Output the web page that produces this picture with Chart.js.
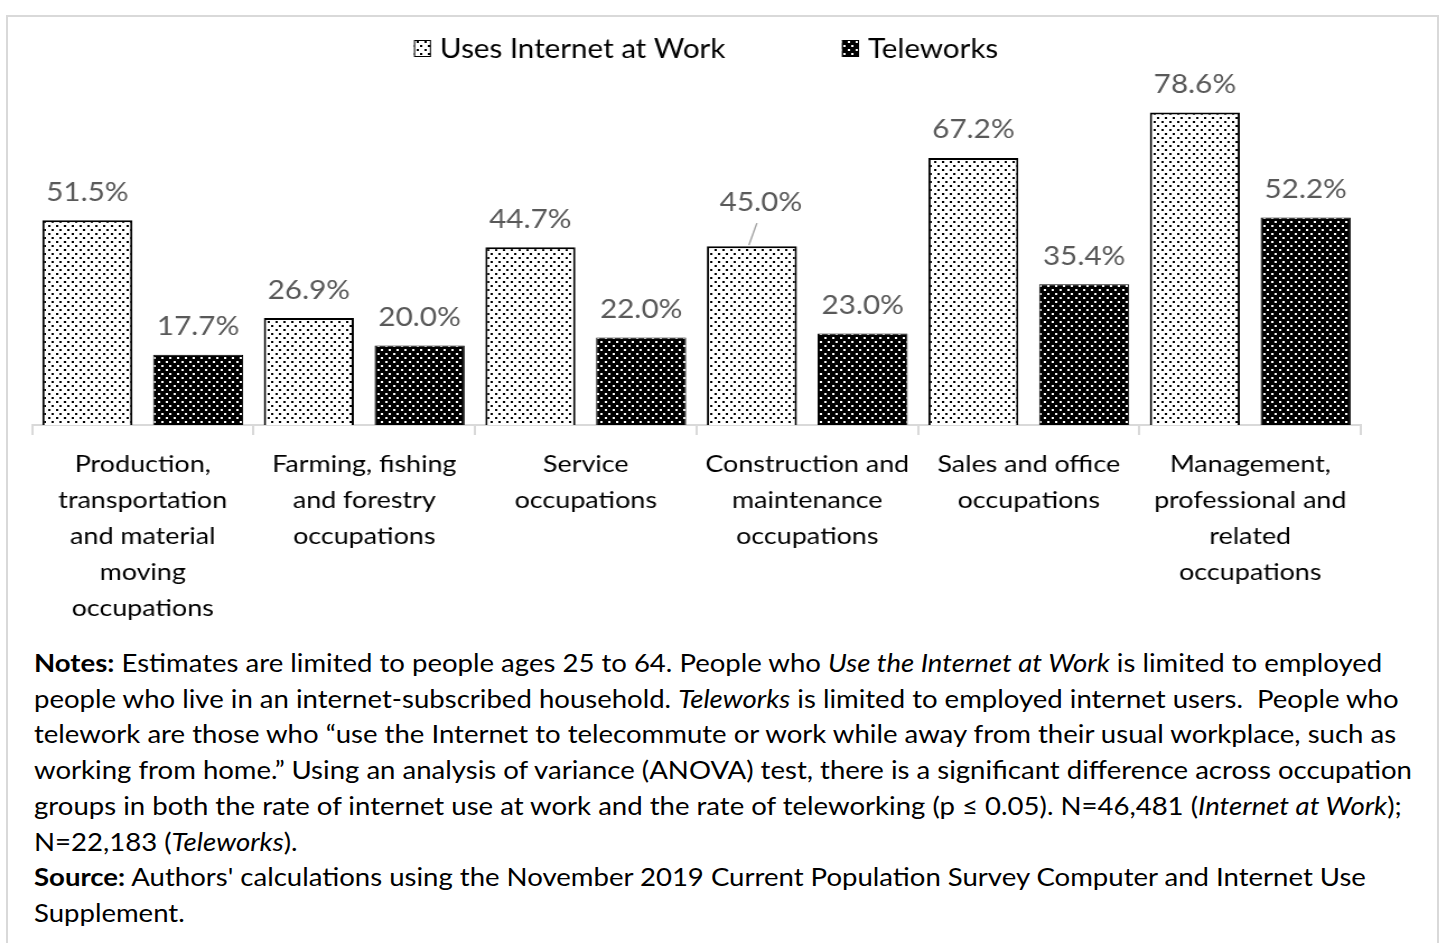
<!DOCTYPE html>
<html>
<head>
<meta charset="utf-8">
<script src="https://cdn.jsdelivr.net/npm/chart.js@4.4.1/dist/chart.umd.min.js"></script>
<style>
  body { margin: 0; background: #fff; font-family: Lato, sans-serif; overflow: hidden; }
  #frame { position: absolute; left: 6px; top: 15px; width: 1433px; height: 960px; border: 2px solid #d9d9d9; box-sizing: border-box; }
  /* the figure is set slightly wide, so the whole drawing is stretched sideways */
  .wide { position: absolute; left: 0; top: 0; transform: scaleX(1.12); transform-origin: 0 0; }
  #notes { left: 34px; top: 645px; font-size: 24.6px; line-height: 35.7px; white-space: nowrap; color: #000; }
</style>
</head>
<body>
<div id="frame"></div>
<div class="wide"><canvas id="chart" width="1293" height="640"></canvas></div>
<div id="notes" class="wide">
<b>Notes:</b> Estimates are limited to people ages 25 to 64. People who <i>Use the Internet at Work</i> is limited to employed<br>
people who live in an internet-subscribed household. <i>Teleworks</i> is limited to employed internet users.&nbsp; People who<br>
telework are those who “use the Internet to telecommute or work while away from their usual workplace, such as<br>
working from home.” Using an analysis of variance (ANOVA) test, there is a significant difference across occupation<br>
groups in both the rate of internet use at work and the rate of teleworking (p ≤ 0.05). N=46,481 (<i>Internet at Work</i>);<br>
N=22,183 (<i>Teleworks</i>).<br>
<b>Source:</b> Authors' calculations using the November 2019 Current Population Survey Computer and Internet Use<br>
Supplement.
</div>
<script>
const occupations = [
  ['Production,', 'transportation', 'and material', 'moving', 'occupations'],
  ['Farming, fishing', 'and forestry', 'occupations'],
  ['Service', 'occupations'],
  ['Construction and', 'maintenance', 'occupations'],
  ['Sales and office', 'occupations'],
  ['Management,', 'professional and', 'related', 'occupations']
];
const usesInternet = [51.5, 26.9, 44.7, 45.0, 67.2, 78.6];
const teleworks = [17.7, 20.0, 22.0, 23.0, 35.4, 52.2];

const FONT = 'Lato, sans-serif';
const SX = 1.12;          // sideways stretch applied by CSS
const px = v => v / SX;   // page x distance -> canvas x distance

// dotted fills: 14x8 tile (about 8px pitch once stretched), staggered 2px dots
function dots(bg, fg) {
  const c = document.createElement('canvas');
  c.width = 14; c.height = 8;
  const g = c.getContext('2d');
  g.fillStyle = bg; g.fillRect(0, 0, 14, 8);
  g.fillStyle = fg;
  g.fillRect(1, 1, 2, 2);
  g.fillRect(8, 1, 2, 2);
  g.fillRect(4, 5, 2, 2);
  g.fillRect(11, 5, 2, 2);
  return g.createPattern(c, 'repeat');
}
const lightDots = dots('#fff', '#000');
const darkDots = dots('#000', '#fff');

// value labels above each bar; one label is lifted and tied back with a leader line
const barLabels = {
  id: 'barLabels',
  afterDatasetsDraw(chart, args, opts) {
    const ctx = chart.ctx;
    ctx.save();
    ctx.font = '26.5px ' + FONT;
    ctx.fillStyle = '#595959';
    ctx.textAlign = 'center';
    ctx.textBaseline = 'middle';
    chart.data.datasets.forEach((ds, di) => {
      chart.getDatasetMeta(di).data.forEach((bar, i) => {
        const lift = opts.lifted[di + ':' + i];
        const text = ds.data[i].toFixed(1) + '%';
        if (lift) {
          const lx = bar.x + px(lift.dx), ly = bar.y - 28 - lift.dy;
          ctx.fillText(text, lx, ly);
          ctx.strokeStyle = '#a6a6a6';
          ctx.lineWidth = 1.5;
          ctx.beginPath();
          ctx.moveTo(lx - px(4), ly + 21);
          ctx.lineTo(bar.x - px(3), bar.y - 1);
          ctx.stroke();
        } else {
          ctx.fillText(text, bar.x, bar.y - 28);
        }
      });
    });
    ctx.restore();
  }
};

// legend row at the top, items spread apart
const topLegend = {
  id: 'topLegend',
  afterDraw(chart, args, opts) {
    const ctx = chart.ctx;
    ctx.save();
    ctx.font = '26.4px ' + FONT;
    ctx.textBaseline = 'middle';
    chart.data.datasets.forEach((ds, di) => {
      const x = px(opts.xs[di]), y = opts.y;
      ctx.fillStyle = ds.backgroundColor;
      ctx.fillRect(x, y - 8, px(17), 17);
      ctx.strokeStyle = '#000';
      ctx.lineWidth = 1;
      ctx.strokeRect(x + 0.5, y - 7.5, px(17) - 1, 16);
      ctx.fillStyle = '#000';
      ctx.fillText(ds.label, x + px(26), y + 1);
    });
    ctx.restore();
  }
};

new Chart(document.getElementById('chart'), {
  type: 'bar',
  data: {
    labels: occupations,
    datasets: [
      {
        label: 'Uses Internet at Work',
        data: usesInternet,
        backgroundColor: lightDots,
        borderColor: '#000',
        borderWidth: { top: 2, left: 2, right: 2, bottom: 0 },
        barPercentage: 0.813,
        categoryPercentage: 1
      },
      {
        label: 'Teleworks',
        data: teleworks,
        backgroundColor: darkDots,
        borderColor: '#000',
        borderWidth: 1,
        barPercentage: 0.813,
        categoryPercentage: 1
      }
    ]
  },
  options: {
    responsive: false,
    animation: false,
    layout: { padding: { top: 107, left: px(32), right: 1293 - px(1361), bottom: 0 } },
    scales: {
      x: {
        grid: { offset: true, drawOnChartArea: false, drawTicks: true, tickLength: 10, color: '#d9d9d9', lineWidth: 2 },
        border: { color: '#d9d9d9', width: 2 },
        ticks: {
          autoSkip: false, maxRotation: 0, padding: 11, color: '#000',
          font: { family: FONT, size: 24, lineHeight: 1.5 }
        },
        afterFit(scale) { scale.height = 640 - 425; }
      },
      y: { display: false, min: 0, max: 80 }
    },
    plugins: {
      legend: { display: false },
      tooltip: { enabled: false },
      barLabels: { lifted: { '0:3': { dx: 9, dy: 16 } } },
      topLegend: { xs: [414, 842], y: 48 }
    }
  },
  plugins: [barLabels, topLegend]
});
</script>
</body>
</html>
